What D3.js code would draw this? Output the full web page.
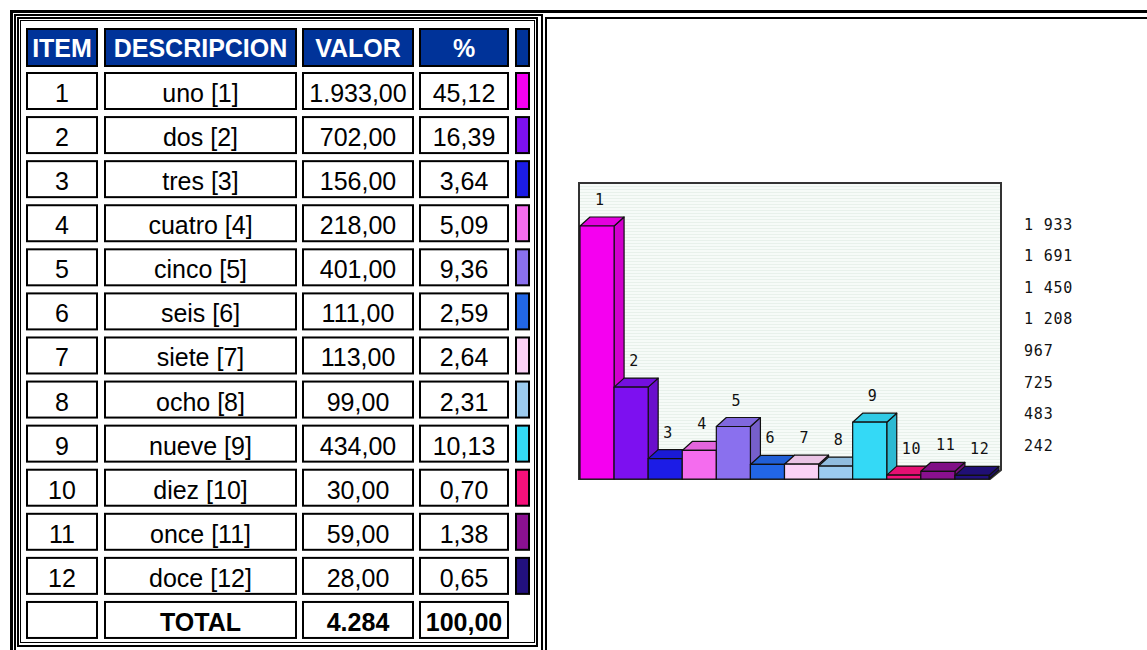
<!DOCTYPE html>
<html><head><meta charset="utf-8">
<script src="https://cdn.jsdelivr.net/npm/d3@7/dist/d3.min.js"></script>
<style>html,body{margin:0;padding:0;background:#fff;overflow:hidden}</style>
</head><body>
<svg id="c" width="1147" height="650"></svg>
<script>
// ---- data ----
const items = [1,2,3,4,5,6,7,8,9,10,11,12];
const descriptions = ["uno [1]","dos [2]","tres [3]","cuatro [4]","cinco [5]","seis [6]","siete [7]","ocho [8]","nueve [9]","diez [10]","once [11]","doce [12]"];
const values = [1933,702,156,218,401,111,113,99,434,30,59,28];
const valueLabels = ["1.933,00","702,00","156,00","218,00","401,00","111,00","113,00","99,00","434,00","30,00","59,00","28,00"];
const percentLabels = ["45,12","16,39","3,64","5,09","9,36","2,59","2,64","2,31","10,13","0,70","1,38","0,65"];
const colors = ["#f500f0","#7d10f0","#1c1ce6","#f46cee","#8a70ee","#2266e6","#fbd2f6","#9ccbef","#34d9f6","#f6107a","#8a1090","#22107e"];
const headers = ["ITEM","DESCRIPCION","VALOR","%",""];
const totalLabels = ["","TOTAL","4.284","100,00"];
const yTickValues = [1933,1691,1450,1208,967,725,483,242];
const yTickLabels = ["1 933","1 691","1 450","1 208","967","725","483","242"];

const svg = d3.select("#c");

// ---- frame lines ----
const frame = svg.append("g").attr("fill","none").attr("stroke","#000");
frame.append("path").attr("d","M11.5,660 V11.5 H1160").attr("stroke-width",3);
frame.append("rect").attr("x",15).attr("y",15).attr("width",527).attr("height",640).attr("stroke-width",2);
frame.append("rect").attr("x",18).attr("y",18).attr("width",519).attr("height",628).attr("stroke-width",2);
frame.append("rect").attr("x",20.5).attr("y",20.5).attr("width",514).attr("height",622).attr("stroke-width",1);
frame.append("path").attr("d","M546,660 V18 H1160").attr("stroke-width",2);

// ---- table ----
const colX = [26,104,302,419,515];
const colW = [72,193,112,90,15];
const rowTop = i => 72 + i*44.08;
const rowH = 38;
const tfont = "Liberation Sans, Arial, sans-serif";

const table = svg.append("g");
function cell(x,y,w,h,fill){
  table.append("rect").attr("x",x+1).attr("y",y+1).attr("width",w-2).attr("height",h-2)
    .attr("fill",fill).attr("stroke","#000").attr("stroke-width",2);
}
function txt(x,y,s,opts){
  table.append("text").attr("x",x).attr("y",y).attr("text-anchor","middle")
    .attr("font-family",tfont).attr("font-size",opts.size||25)
    .attr("font-weight",opts.bold?"bold":"normal").attr("fill",opts.fill||"#000").text(s);
}
// header
headers.forEach((h,j)=>{
  cell(colX[j],28,colW[j],39,"#003399");
  if(h) txt(colX[j]+colW[j]/2,57,h,{bold:true,fill:"#fff",size:25});
});
// data rows
items.forEach((it,i)=>{
  const y = rowTop(i);
  const vals = [String(it),descriptions[i],valueLabels[i],percentLabels[i]];
  vals.forEach((v,j)=>{
    cell(colX[j],y,colW[j],rowH,"#fff");
    txt(colX[j]+colW[j]/2,y+30,v,{size:25});
  });
  cell(colX[4],y,colW[4],rowH,colors[i]);
});
// total row
totalLabels.forEach((v,j)=>{
  const y = rowTop(12);
  cell(colX[j],y,colW[j],rowH,"#fff");
  if(v) txt(colX[j]+colW[j]/2,y+30,v,{bold:true,size:25});
});

// ---- chart ----
const defs = svg.append("defs");
const pat = defs.append("pattern").attr("id","stripes").attr("patternUnits","userSpaceOnUse")
  .attr("width",4).attr("height",3);
pat.append("rect").attr("width",4).attr("height",3).attr("fill","#f6fbf8");
pat.append("rect").attr("width",4).attr("height",1).attr("fill","#e8f1eb");

const x = d3.scaleBand().domain(items).range([580,989]).padding(0);
const y = d3.scaleLinear().domain([0,1933]).range([479,226]);
const base = y(0);
const dx = 10, dy = 9;

const chart = svg.append("g");
chart.append("path")
  .attr("d",`M579,${base} V183 H1001 V${base-dy} L${x.range()[1]+1},${base} Z`)
  .attr("fill","url(#stripes)").attr("stroke","#333").attr("stroke-width",2);

const mono = "DejaVu Sans Mono, monospace";
items.forEach((it,i)=>{
  const x0 = x(it), x1 = x(it)+x.bandwidth(), t = y(values[i]);
  const c = d3.color(colors[i]);
  const g = chart.append("g").attr("stroke","#111").attr("stroke-width",1.2).attr("stroke-linejoin","round");
  g.append("path").attr("d",`M${x1},${t} L${x1+dx},${t-dy} L${x1+dx},${base-dy} L${x1},${base} Z`)
    .attr("fill",c.darker(0.45));
  g.append("path").attr("d",`M${x0},${t} L${x0+dx},${t-dy} L${x1+dx},${t-dy} L${x1},${t} Z`)
    .attr("fill",c.darker(0.2));
  g.append("rect").attr("x",x0).attr("y",t).attr("width",x.bandwidth()).attr("height",base-t)
    .attr("fill",colors[i]);
});
// bar number labels
chart.selectAll("text.bl").data(items).join("text").attr("class","bl")
  .attr("x",d=>x(d)+x.bandwidth()/2-2)
  .attr("y",(d,i)=>y(values[i])-dy-12)
  .attr("font-family",mono).attr("font-size",15).attr("letter-spacing",0.8)
  .attr("fill","#111").text(d=>d);

// value scale labels
chart.selectAll("text.yl").data(yTickValues).join("text").attr("class","yl")
  .attr("x",1024).attr("y",d=>y(d)+3.5)
  .attr("font-family",mono).attr("font-size",15).attr("letter-spacing",0.8)
  .attr("fill","#111").text((d,i)=>yTickLabels[i]);
</script>
</body></html>
